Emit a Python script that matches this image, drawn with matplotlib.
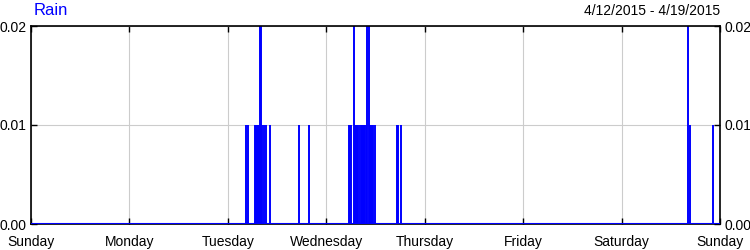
import matplotlib
matplotlib.use('Agg')
import matplotlib.pyplot as plt
from matplotlib.ticker import FormatStrFormatter

# rain readings: hours since Sunday 00:00 (4/12/2015) and amount
rain_hours = [52.5, 53.0, 54.7, 54.9, 55.2, 55.4, 55.7, 55.9, 56.2, 56.3,
              56.7, 57.2, 58.2, 65.3, 67.9,
              77.5, 77.8, 78.1, 78.7, 79.1, 79.3, 79.6, 79.8, 80.2, 80.6,
              80.8, 81.1, 81.3, 81.6, 81.9, 82.3, 82.6, 82.9, 83.1, 83.5,
              84.0, 89.2, 89.4, 90.1,
              160.2, 160.7, 166.2]
rain_values = [0.01, 0.01, 0.01, 0.01, 0.01, 0.01, 0.01, 0.02, 0.02, 0.01,
               0.01, 0.01, 0.01, 0.01, 0.01,
               0.01, 0.01, 0.01, 0.02, 0.01, 0.01, 0.01, 0.01, 0.01, 0.01,
               0.01, 0.01, 0.01, 0.01, 0.02, 0.02, 0.01, 0.01, 0.01, 0.01,
               0.01, 0.01, 0.01, 0.01,
               0.02, 0.01, 0.01]
day_labels = ['Sunday', 'Monday', 'Tuesday', 'Wednesday', 'Thursday',
              'Friday', 'Saturday', 'Sunday']
y_ticks = [0.0, 0.01, 0.02]

plt.rcParams['font.family'] = ['Liberation Sans', 'DejaVu Sans']

fig = plt.figure(figsize=(7.5, 2.5), dpi=100)
ax = fig.add_axes((0.0413, 0.104, 0.9187, 0.792))

ax.vlines(rain_hours, 0, rain_values, color='#0000ff', linewidth=1.4)
ax.axhline(0, color='#0000ff', linewidth=1.5, zorder=3)

ax.set_xlim(0, 168)
ax.set_ylim(0, 0.02)
ax.set_xticks([24 * i for i in range(len(day_labels))])
ax.set_xticklabels(day_labels)
ax.set_yticks(y_ticks)
ax.yaxis.set_major_formatter(FormatStrFormatter('%.2f'))
ax.grid(True, color='#cccccc', linewidth=0.8)
ax.tick_params(direction='in', length=4, width=1, labelsize=10,
               top=True, right=True, labelright=True, pad=3)
ax.tick_params(axis='x', pad=8)
for s in ax.spines.values():
    s.set_linewidth(1.2)

fig.text(0.045, 0.94, 'Rain', color='#0000ff', fontsize=12)
fig.text(0.96, 0.94, '4/12/2015 - 4/19/2015', color='black', fontsize=10,
         ha='right')

fig.savefig('out.png', dpi=100)
